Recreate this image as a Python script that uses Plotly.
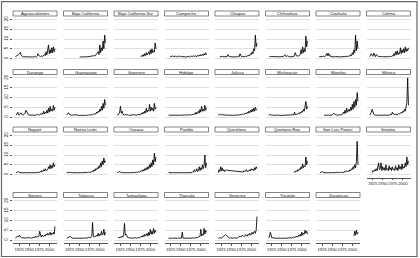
import plotly.graph_objects as go

N = None
# observation years (every second year)
years = list(range(1916, 2015, 2))
x_ticks = [1925, 1950, 1975, 2000]
y_ticks = [0, 5, 10, 15, 20]

aguascalientes = [1.0,1.2,1.3,1.5,2.0,2.5,3.2,1.8,1.2,1.0,
 0.9,0.8,0.9,1.0,0.8,0.9,0.8,0.9,0.8,0.9,
 0.9,0.8,0.9,0.8,0.9,1.0,0.8,1.2,2.5,1.6,
 1.2,1.0,1.4,1.0,1.2,1.5,2.2,1.5,3.5,2.0,
 4.0,7.0,2.5,4.5,2.8,5.5,3.0,6.0,3.5,5.0]
baja_california = [N,N,N,N,N,N,N,N,N,N,
 N,N,N,N,N,N,N,0.8,0.9,0.8,
 0.8,0.9,0.8,0.9,0.8,0.9,1.0,0.9,1.0,1.1,
 1.0,1.2,1.0,1.3,1.2,1.5,1.3,1.8,2.0,2.5,
 3.5,2.0,7.0,3.0,5.5,4.0,9.0,5.0,12.0,8.0]
baja_california_sur = [N,N,N,N,N,N,N,N,N,N,
 N,N,N,N,N,N,N,N,N,N,
 N,N,N,N,N,N,N,N,N,N,
 1.0,1.5,1.0,2.0,1.2,2.5,1.5,3.0,1.8,2.5,
 3.5,2.0,4.5,2.5,5.0,3.0,4.0,3.5,8.0,5.0]
campeche = [N,N,N,N,0.8,1.2,1.0,1.5,1.0,1.2,
 0.9,1.4,1.0,0.8,1.2,1.0,1.3,0.9,1.1,1.0,
 0.8,1.0,0.9,0.8,0.9,1.0,0.9,1.1,0.8,1.2,
 1.0,1.3,1.0,1.5,1.1,1.2,1.4,1.0,1.6,1.2,
 1.8,1.3,2.0,1.5,2.2,1.6,2.5,1.8,3.0,2.0]
chiapas = [N,N,N,0.8,1.0,0.9,1.2,0.9,1.0,0.8,
 0.9,1.0,1.0,2.0,1.0,0.9,1.0,0.9,0.8,0.9,
 0.9,0.8,1.0,0.9,1.0,0.9,1.2,0.9,2.5,1.0,
 0.9,1.0,0.9,1.1,1.0,1.2,1.0,1.5,1.2,1.8,
 1.5,2.5,2.0,3.5,2.5,5.0,4.0,12.0,6.0,8.0]
chihuahua = [N,N,1.0,0.9,1.0,1.1,1.0,0.9,1.0,0.9,
 1.0,0.9,1.0,0.9,1.0,0.9,1.0,0.9,1.0,1.0,
 1.5,2.0,1.2,1.0,1.5,1.0,1.0,0.9,1.0,0.9,
 1.0,1.0,0.9,2.5,3.0,1.5,1.2,1.5,1.2,1.8,
 2.0,4.5,2.5,6.0,3.0,5.0,3.5,11.5,6.0,9.0]
coahuila = [N,1.0,0.9,1.0,0.9,1.0,1.2,1.0,1.0,1.5,
 2.5,1.5,2.8,1.4,2.0,1.0,0.9,1.0,0.9,1.0,
 0.9,1.0,0.9,1.0,0.9,1.0,0.9,0.9,1.0,0.9,
 1.0,0.9,1.0,1.0,1.1,1.0,1.2,1.0,1.5,1.2,
 2.0,1.5,3.0,2.0,4.5,3.0,12.0,4.0,9.0,5.0]
colima = [N,1.0,1.5,2.5,1.5,1.2,2.8,1.8,1.0,2.0,
 1.5,1.2,1.0,1.1,1.0,0.9,1.0,0.9,1.0,0.9,
 1.0,0.9,1.0,0.9,1.0,0.9,1.0,1.2,1.0,1.5,
 1.2,2.5,1.5,3.5,2.0,4.0,2.0,3.0,2.5,5.5,
 2.5,4.5,3.0,5.0,3.0,6.0,3.5,5.0,4.0,5.5]
durango = [N,1.0,1.5,2.5,1.2,1.0,1.8,2.2,1.5,1.0,
 1.2,1.8,2.0,3.5,2.5,1.5,1.2,1.0,1.0,0.9,
 1.0,0.9,1.0,0.9,1.0,1.2,1.0,1.5,1.2,1.0,
 1.1,1.5,1.2,2.0,1.5,3.0,1.5,2.5,2.0,3.5,
 2.0,4.5,2.5,5.5,3.0,4.0,3.0,6.0,3.5,5.0]
guanajuato = [N,1.0,1.8,2.2,1.5,1.2,1.0,0.9,1.0,0.9,
 1.0,1.2,1.0,0.9,1.0,0.9,1.0,0.9,0.8,0.9,
 0.8,0.9,1.0,0.9,0.8,1.0,0.9,1.0,1.1,1.0,
 1.2,1.0,1.4,1.2,1.5,1.3,1.8,1.5,2.5,2.0,
 3.0,2.5,4.0,3.0,5.5,3.5,7.0,4.5,9.0,6.0]
guerrero = [N,1.0,1.2,1.5,2.5,5.5,2.0,3.0,1.5,1.2,
 1.0,1.5,1.0,1.2,0.9,1.0,0.9,1.0,0.9,1.0,
 0.9,1.0,1.2,1.0,0.9,1.1,1.0,1.5,1.0,1.3,
 1.2,2.0,1.5,2.5,1.8,3.0,2.0,4.5,2.5,3.5,
 3.0,6.5,3.0,5.0,3.5,4.5,3.0,7.0,4.0,5.0]
hidalgo = [N,N,1.0,1.2,1.0,0.9,1.0,0.9,1.0,0.9,
 1.0,0.9,1.0,0.9,0.8,0.9,1.0,0.9,1.0,0.9,
 1.0,0.9,1.0,1.1,1.0,0.9,1.0,1.2,1.0,1.1,
 1.2,1.0,1.5,1.2,1.8,1.4,2.5,1.5,2.0,3.0,
 2.0,4.0,2.5,5.5,3.0,4.0,3.0,6.0,3.5,4.5]
jalisco = [N,1.0,1.2,1.5,1.2,1.0,1.5,1.2,1.0,1.1,
 1.0,1.2,1.0,0.9,1.0,0.9,1.0,0.9,1.0,0.9,
 1.0,0.9,1.0,0.9,1.1,1.0,1.2,1.0,1.3,1.1,
 1.2,1.5,1.3,1.8,1.5,2.0,1.6,2.5,2.0,3.0,
 2.2,3.5,2.5,4.0,2.8,4.5,3.0,5.0,3.5,4.0]
michoacan = [N,1.0,1.1,1.3,1.0,1.2,1.0,0.9,1.0,0.9,
 1.0,0.9,1.0,0.9,1.0,0.9,0.8,0.9,1.0,0.9,
 1.0,0.9,1.0,0.9,1.0,1.2,1.0,1.1,1.0,1.2,
 1.0,1.3,1.1,2.5,1.2,1.5,1.3,1.8,2.0,1.5,
 2.5,2.0,3.0,2.5,4.0,3.0,5.0,8.0,4.0,5.5]
morelos = [N,N,N,N,N,N,N,0.9,1.0,1.1,
 1.0,1.2,1.0,0.9,1.0,0.9,1.0,1.0,1.5,2.0,
 1.5,1.2,1.0,0.9,1.0,1.1,1.0,1.2,1.0,1.3,
 1.5,2.5,1.8,3.5,2.0,4.5,2.5,3.0,4.0,3.0,
 5.0,3.5,6.5,4.0,8.0,5.0,9.0,6.0,12.5,8.0]
mexico = [N,1.0,1.5,2.5,4.0,2.0,1.5,1.0,1.2,1.0,
 0.9,1.0,0.9,1.0,0.9,1.0,0.9,1.0,0.9,1.0,
 0.9,1.0,0.9,1.0,1.1,1.2,1.0,1.5,1.2,2.5,
 1.5,1.8,1.2,1.5,1.3,1.2,1.5,1.8,1.5,2.0,
 2.5,2.0,3.0,2.5,4.0,3.0,5.0,7.5,20.0,6.0]
nayarit = [N,1.0,1.2,1.0,1.5,1.0,1.2,1.0,0.9,1.0,
 0.9,1.0,1.1,1.0,0.9,1.0,0.9,1.0,0.9,1.0,
 0.9,1.0,0.9,1.0,1.0,0.9,1.1,1.0,1.2,1.0,
 1.2,1.5,1.2,2.0,1.5,2.5,1.8,3.0,2.0,2.5,
 2.5,4.0,3.0,5.0,3.0,4.5,3.5,6.0,4.0,5.0]
nuevo_leon = [N,1.0,0.9,1.0,1.2,1.0,0.9,1.0,0.9,1.0,
 0.9,1.0,0.9,1.0,0.9,1.0,0.9,1.0,0.9,1.0,
 0.9,1.0,0.9,1.0,1.1,1.0,1.2,1.0,1.3,1.1,
 1.2,1.5,1.3,2.0,1.5,2.5,1.8,3.0,2.5,3.5,
 3.0,4.5,3.5,6.0,4.0,7.0,5.0,8.5,6.0,7.0]
oaxaca = [N,1.0,1.2,1.0,1.5,1.2,1.0,1.2,1.0,0.9,
 1.0,1.2,1.0,0.9,1.0,1.1,1.0,0.9,1.0,1.2,
 1.0,1.1,1.0,1.2,1.0,1.3,1.1,1.5,1.2,1.4,
 1.5,2.0,1.6,2.5,1.8,3.0,2.2,3.5,2.5,4.0,
 3.0,5.0,3.5,6.0,4.0,7.5,5.0,11.0,6.5,9.0]
puebla = [N,N,1.0,0.9,1.0,0.9,1.0,0.9,1.0,0.9,
 1.0,0.9,1.0,0.9,1.0,0.9,1.0,0.9,1.0,0.9,
 1.0,0.9,1.0,0.9,1.0,0.9,1.0,1.0,1.1,1.0,
 1.2,1.0,1.5,1.2,2.5,1.5,1.8,3.0,1.5,2.0,
 4.0,2.0,3.5,2.5,5.0,3.0,4.5,10.0,3.5,6.0]
queretaro = [N,1.0,2.5,1.5,4.0,2.0,3.5,1.8,2.5,1.5,
 2.0,2.5,2.2,N,N,N,N,N,N,N,
 N,N,N,N,N,N,N,N,N,1.5,
 1.2,1.5,1.3,2.0,1.5,1.8,2.5,1.5,2.0,1.8,
 2.5,2.0,3.0,2.2,2.8,2.0,3.5,2.5,4.0,3.0]
quintana_roo = [N,N,N,N,N,N,N,N,N,N,
 N,N,N,N,N,N,N,N,N,N,
 N,N,N,N,N,N,N,N,N,N,
 N,N,1.0,1.5,1.2,2.0,1.5,2.5,2.0,3.0,
 2.5,4.0,3.0,5.5,3.5,4.5,4.0,9.0,5.0,7.0]
san_luis_potosi = [N,N,1.0,1.2,1.0,1.5,1.0,0.9,1.0,0.9,
 1.0,0.9,1.0,0.9,1.2,1.0,0.9,1.0,0.9,1.0,
 0.9,1.0,1.2,1.0,0.9,1.0,1.1,1.0,1.3,1.0,
 1.2,1.0,1.5,1.2,1.4,2.0,1.5,1.8,1.5,2.5,
 2.0,3.0,2.5,4.0,3.0,5.0,3.5,6.5,17.0,5.0]
sinaloa = [N,N,N,N,1.0,2.0,1.5,2.5,1.8,3.0,
 2.0,3.5,6.0,2.5,3.0,6.0,2.0,4.0,2.5,3.5,
 2.0,5.0,2.5,3.0,2.0,4.5,2.5,3.5,2.0,4.0,
 2.5,3.0,2.0,4.5,2.5,3.5,2.0,5.0,3.0,4.0,
 2.5,5.5,3.0,4.0,3.5,6.0,4.0,9.0,5.0,7.0]
sonora = [1.0,1.2,1.5,2.0,1.5,2.5,1.8,1.2,1.0,1.2,
 1.0,0.9,1.0,1.2,1.0,0.9,1.0,1.5,1.0,0.9,
 1.0,1.2,1.0,1.5,1.2,2.0,1.5,1.8,1.5,2.0,
 4.5,2.0,1.5,2.5,2.0,1.8,2.5,2.0,3.0,2.5,
 3.5,2.5,3.0,4.0,2.5,3.5,3.0,4.0,3.0,7.0]
tabasco = [N,1.0,1.2,1.0,1.5,2.0,1.5,1.0,0.9,1.0,
 0.9,1.0,0.9,1.0,0.9,1.0,0.9,1.0,0.9,1.0,
 0.9,1.0,0.9,1.0,1.1,1.0,1.2,1.0,1.5,1.2,
 1.5,1.3,1.8,9.0,2.0,1.5,2.0,1.8,2.5,2.0,
 3.5,2.0,3.0,2.5,4.5,2.5,3.0,5.5,2.5,4.0]
tamaulipas = [N,N,1.0,1.2,1.0,1.5,1.2,2.0,1.5,3.0,
 8.5,2.5,3.0,1.5,1.2,1.0,1.5,1.0,0.9,1.0,
 0.9,1.0,1.2,1.0,0.9,1.0,1.2,1.0,1.5,1.2,
 1.5,2.0,1.5,2.5,1.8,3.0,2.0,2.5,3.5,2.0,
 4.0,2.5,5.5,3.0,4.5,3.0,6.0,3.5,5.0,4.0]
tlaxcala = [N,N,1.0,0.9,1.0,0.9,1.0,0.9,1.0,0.9,
 1.0,0.9,1.0,0.9,1.0,0.9,1.0,0.9,1.0,4.0,
 1.0,0.9,1.0,0.9,1.0,0.9,1.0,0.9,1.0,0.9,
 1.0,0.9,1.0,1.1,1.0,1.2,1.0,1.3,1.2,1.5,
 1.5,2.0,5.5,2.0,3.0,2.5,6.0,3.0,5.0,4.0]
veracruz = [N,1.0,1.1,1.0,1.2,1.0,1.2,1.5,2.0,2.5,
 2.8,2.5,2.0,1.5,1.2,1.0,1.1,1.0,0.9,1.0,
 1.0,1.1,1.0,1.2,1.0,1.1,1.3,1.5,2.0,1.5,
 1.8,2.5,2.0,2.2,2.0,2.8,2.5,2.0,3.0,2.5,
 3.5,2.5,3.0,4.0,3.0,3.5,4.5,3.5,5.0,12.0]
yucatan = [N,1.0,2.0,4.0,1.5,1.0,1.2,1.0,0.9,1.0,
 0.9,1.0,0.9,1.0,0.9,1.0,0.9,1.0,0.9,1.0,
 0.9,1.0,0.9,1.0,0.9,1.0,1.1,1.0,1.2,1.0,
 1.2,1.0,1.5,1.2,1.8,1.5,2.0,1.5,2.5,2.0,
 3.0,2.0,4.0,2.5,3.5,3.0,5.0,3.5,4.5,3.0]
zacatecas = [N,N,N,N,N,N,N,N,N,N,
 N,N,N,N,N,N,N,N,N,N,
 N,N,N,N,N,N,N,N,N,N,
 N,N,N,N,N,N,N,N,N,N,
 N,N,N,N,2.0,4.5,2.5,5.0,3.0,4.0]

states = [
    ("Aguascalientes", aguascalientes), ("Baja California", baja_california),
    ("Baja California Sur", baja_california_sur), ("Campeche", campeche),
    ("Chiapas", chiapas), ("Chihuahua", chihuahua), ("Coahuila", coahuila),
    ("Colima", colima), ("Durango", durango), ("Guanajuato", guanajuato),
    ("Guerrero", guerrero), ("Hidalgo", hidalgo), ("Jalisco", jalisco),
    ("Michoacán", michoacan), ("Morelos", morelos), ("México", mexico),
    ("Nayarit", nayarit), ("Nuevo León", nuevo_leon), ("Oaxaca", oaxaca),
    ("Puebla", puebla), ("Querétaro", queretaro), ("Quintana Roo", quintana_roo),
    ("San Luis Potosí", san_luis_potosi), ("Sinaloa", sinaloa),
    ("Sonora", sonora), ("Tabasco", tabasco), ("Tamaulipas", tamaulipas),
    ("Tlaxcala", tlaxcala), ("Veracruz", veracruz), ("Yucatán", yucatan),
    ("Zacatecas", zacatecas),
]

W, H = 420, 258
row_top = [11, 69.5, 127, 192.5]
col_left0, col_pitch, pw = 13, 50.5, 44
strip_h, plot_off, plot_h = 5, 5.5, 45
FONT = "Liberation Sans, Arial, sans-serif"

fig = go.Figure()
layout = {}
shapes = []
annotations = []
n_states = len(states)
for k, (name, vals) in enumerate(states):
    r, c = divmod(k, 8)
    i = k + 1
    s = "" if i == 1 else str(i)
    x0 = col_left0 + c * col_pitch
    x1 = x0 + pw
    top = row_top[r] + plot_off
    bot = top + plot_h
    fig.add_trace(go.Scatter(
        x=years, y=vals, mode="lines", connectgaps=True,
        line=dict(color="black", width=0.85),
        xaxis="x" + s, yaxis="y" + s, showlegend=False, hoverinfo="skip"))
    show_x = (k + 8 >= n_states)
    layout["xaxis" + s] = dict(
        domain=[x0 / W, x1 / W], range=[1910, 2019], anchor="y" + s,
        showgrid=False, zeroline=False, showline=show_x,
        linecolor="#555", linewidth=0.6,
        ticks="outside" if show_x else "", ticklen=2, tickwidth=0.6,
        tickcolor="#555", tickvals=x_ticks, showticklabels=show_x,
        tickangle=0,
        tickfont=dict(size=4.2, color="#222", family=FONT))
    layout["yaxis" + s] = dict(
        domain=[1 - bot / H, 1 - top / H], range=[-1.5, 21.5], anchor="x" + s,
        showgrid=True, gridcolor="#e0e0e0", gridwidth=0.5, zeroline=False,
        showline=False, tickvals=y_ticks, showticklabels=(c == 0),
        ticks="outside" if c == 0 else "", ticklen=2, tickwidth=0.6,
        tickcolor="#555", tickangle=-90,
        tickfont=dict(size=4.5, color="#222", family=FONT))
    st, sb = row_top[r], row_top[r] + strip_h
    shapes.append(dict(type="rect", xref="paper", yref="paper",
                       x0=x0 / W, x1=x1 / W, y0=1 - sb / H, y1=1 - st / H,
                       line=dict(color="#333", width=0.6), fillcolor="white",
                       layer="above"))
    annotations.append(dict(xref="paper", yref="paper",
                            x=(x0 + x1) / 2 / W, y=1 - (st + sb) / 2 / H,
                            text=name, showarrow=False, xanchor="center",
                            yanchor="middle",
                            font=dict(size=4.2, color="#111", family=FONT)))

shapes.append(dict(type="rect", xref="paper", yref="paper",
                   x0=1.5 / W, x1=417 / W, y0=1 - 256.5 / H, y1=1 - 1.7 / H,
                   line=dict(color="#666", width=1.2), fillcolor="rgba(0,0,0,0)"))

fig.update_layout(
    width=W, height=H, autosize=False,
    margin=dict(l=0, r=0, t=0, b=0),
    paper_bgcolor="white", plot_bgcolor="white",
    shapes=shapes, annotations=annotations, **layout)

fig.write_html("out.html", config={"displayModeBar": False},
               post_script="document.body.style.margin='0px';document.body.style.overflow='hidden';")
